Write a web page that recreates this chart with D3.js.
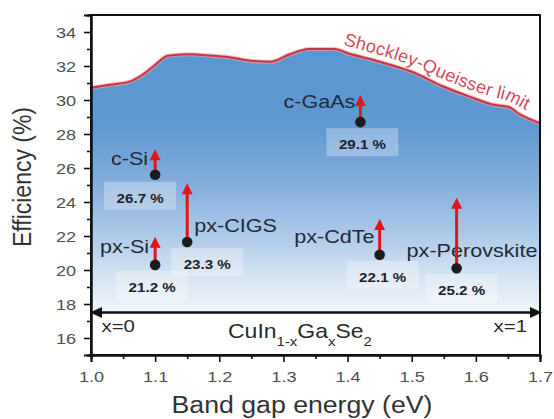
<!DOCTYPE html>
<html>
<head>
<meta charset="utf-8">
<script src="https://cdn.jsdelivr.net/npm/d3@7"></script>
<style>
  html, body { margin: 0; padding: 0; background: #ffffff; }
  svg { display: block; font-family: "Liberation Sans", Arial, sans-serif; }
</style>
</head>
<body>
<svg id="chart" width="554" height="419"></svg>
<script>
// Shockley-Queisser detailed-balance limit vs band gap
const sqGap = [1.00, 1.03, 1.06, 1.08, 1.10, 1.12, 1.15, 1.19, 1.22, 1.24, 1.28, 1.31, 1.34, 1.38, 1.40, 1.45, 1.50, 1.55, 1.59, 1.63, 1.65, 1.67, 1.70];
const sqEff = [30.72, 30.9, 31.08, 31.47, 32.06, 32.6, 32.69, 32.6, 32.49, 32.35, 32.25, 32.69, 33.0, 33.0, 32.75, 32.25, 31.66, 30.78, 30.2, 29.7, 29.6, 29.12, 28.63];

// Solar cell technologies
const cells    = ["c-Si", "px-Si", "px-CIGS", "c-GaAs", "px-CdTe", "px-Perovskite"];
const cellGap  = [1.10, 1.10, 1.15, 1.42, 1.45, 1.57];
const dotEff   = [25.6, 20.3, 21.65, 28.7, 20.9, 20.1];
const arrowEff = [27.1, 21.95, 25.1, 30.3, 23.0, 24.25];
const recordEff = [26.7, 21.2, 23.3, 29.1, 22.1, 25.2];

// Axis ticks
const yTicks = [16, 18, 20, 22, 24, 26, 28, 30, 32, 34];
const xTicks = [1.0, 1.1, 1.2, 1.3, 1.4, 1.5, 1.6, 1.7];

// CuIn(1-x)Ga(x)Se2 composition band
const compositionLevel = 17.5;
const compositionEnds = ["x=0", "x=1"];

const svg = d3.select("#chart");
const plotL = 91, plotR = 540, plotT = 15, plotB = 355;

const x = d3.scaleLinear().domain([1.0, 1.7]).range([plotL, plotR]);
const y = d3.scaleLinear().domain([15, 35]).range([plotB, plotT]);

// gradient for the area under the limit
const defs = svg.append("defs");
const grad = defs.append("linearGradient")
  .attr("id", "sqFill").attr("gradientUnits", "userSpaceOnUse")
  .attr("x1", 0).attr("x2", 0).attr("y1", y(33.1)).attr("y2", y(compositionLevel));
[[0, "#5a97d2"], [0.3, "#6098d0"], [0.5, "#81acdb"], [0.7, "#abc9e8"], [0.88, "#d8e6f4"], [1, "#f1f6fb"]]
  .forEach(([o, c]) => grad.append("stop").attr("offset", o).attr("stop-color", c));

const sq = sqGap.map((g, i) => ({ g, e: sqEff[i] }));

const area = d3.area()
  .x(d => x(d.g)).y0(y(compositionLevel)).y1(d => y(d.e))
  .curve(d3.curveMonotoneX);
svg.append("path").datum(sq).attr("d", area).attr("fill", "url(#sqFill)");

const line = d3.line().x(d => x(d.g)).y(d => y(d.e)).curve(d3.curveMonotoneX);
svg.append("path").datum(sq).attr("d", line)
  .attr("fill", "none").attr("stroke", "#e9a0a6").attr("stroke-width", 4.2).attr("opacity", 0.7);
svg.append("path").datum(sq).attr("d", line)
  .attr("fill", "none").attr("stroke", "#c7343f").attr("stroke-width", 2);

// label path: a smoothed copy of the limit curve, lifted above it
const labelLine = d3.line().x(d => x(d.g)).y(d => y(d.e) - 7).curve(d3.curveBasis);
const labelPts = sq.filter(d => d.g >= 1.34);
defs.append("path").attr("id", "sqLabelPath").attr("d", labelLine(labelPts));
// path length where the label should begin
const tmp = svg.append("path").attr("d", labelLine(labelPts)).attr("fill", "none");
const node = tmp.node();
let lo = 0, hi = node.getTotalLength();
const startX = x(1.393);
for (let k = 0; k < 40; k++) {
  const mid = (lo + hi) / 2;
  if (node.getPointAtLength(mid).x < startX) lo = mid; else hi = mid;
}
tmp.remove();
svg.append("text")
  .attr("font-size", 18).attr("fill", "#d44a58").attr("letter-spacing", 0.3)
  .append("textPath").attr("href", "#sqLabelPath").attr("startOffset", lo)
  .text("Shockley-Queisser limit");

// composition double arrow
const gArrow = svg.append("g");
const yc = y(compositionLevel);
gArrow.append("line").attr("x1", x(1.0) + 6).attr("x2", x(1.7) - 6)
  .attr("y1", yc).attr("y2", yc).attr("stroke", "#111").attr("stroke-width", 2.5);
gArrow.append("path")
  .attr("d", `M${x(1.0) - 1},${yc} L${x(1.0) + 11},${yc - 5.5} L${x(1.0) + 11},${yc + 5.5} Z`)
  .attr("fill", "#111");
gArrow.append("path")
  .attr("d", `M${x(1.7) + 2},${yc} L${x(1.7) - 10},${yc - 5.5} L${x(1.7) - 10},${yc + 5.5} Z`)
  .attr("fill", "#111");

// text drawn with a slight horizontal stretch
function stretched(parent, tx, ty, s) {
  return parent.append("text").attr("transform", `translate(${tx},${ty}) scale(${s},1)`);
}

stretched(svg, 101.5, 332, 1.2).attr("font-size", 17).attr("fill", "#2a2a2a").text(compositionEnds[0]);
stretched(svg, 527, 332, 1.2).attr("font-size", 17).attr("fill", "#2a2a2a")
  .attr("text-anchor", "end").text(compositionEnds[1]);

const cig = stretched(svg, 228, 338, 1.15).attr("font-size", 20).attr("fill", "#2a2a2a");
cig.append("tspan").text("CuIn");
cig.append("tspan").attr("font-size", 13).attr("dy", 8).text("1-x");
cig.append("tspan").attr("dy", -8).text("Ga");
cig.append("tspan").attr("font-size", 13).attr("dy", 8).text("x");
cig.append("tspan").attr("dy", -8).text("Se");
cig.append("tspan").attr("font-size", 13).attr("dy", 8).text("2");

// technology markers: label placement around each dot
const offsets = {
  "c-Si":          { name: [-7, -10, "end"],   pct: [-15, 28] },
  "px-Si":         { name: [-6, -12, "end"],   pct: [-3, 27] },
  "px-CIGS":       { name: [7, -10, "start"],  pct: [20, 27] },
  "c-GaAs":        { name: [-5, -14, "end"],   pct: [2, 27] },
  "px-CdTe":       { name: [-5, -12, "end"],   pct: [3, 27] },
  "px-Perovskite": { name: [-50, -11, "start"], pct: [5, 27] }
};

const cellData = cells.map((n, i) => ({
  name: n, gap: cellGap[i], dot: dotEff[i], tip: arrowEff[i], rec: recordEff[i]
}));

const gCells = svg.append("g");
cellData.forEach(d => {
  const cx = x(d.gap), cy = y(d.dot), ty = y(d.tip);
  const o = offsets[d.name];
  // record efficiency box and text
  const px = cx + o.pct[0], py = cy + o.pct[1];
  gCells.append("rect").attr("x", px - 36).attr("y", py - 21).attr("width", 72).attr("height", 28)
    .attr("fill", "#ffffff").attr("opacity", 0.3);
  stretched(gCells, px, py, 1.12).attr("font-size", 13.5).attr("font-weight", "bold")
    .attr("fill", "#1e2228").attr("text-anchor", "middle").text(d3.format(".1f")(d.rec) + " %");
  // technology name
  stretched(gCells, cx + o.name[0], cy + o.name[1], 1.2).attr("font-size", 18)
    .attr("fill", "#232a36").attr("text-anchor", o.name[2]).text(d.name);
  // improvement arrow
  gCells.append("line").attr("x1", cx).attr("x2", cx).attr("y1", cy).attr("y2", ty + 9)
    .attr("stroke", "#e3141d").attr("stroke-width", 3);
  gCells.append("path")
    .attr("d", `M${cx},${ty} L${cx - 5.5},${ty + 11} L${cx + 5.5},${ty + 11} Z`)
    .attr("fill", "#e3141d");
  gCells.append("circle").attr("cx", cx).attr("cy", cy).attr("r", 5.3).attr("fill", "#1b1b1b");
});

// frame
svg.append("rect").attr("x", plotL).attr("y", plotT).attr("width", plotR - plotL).attr("height", plotB - plotT)
  .attr("fill", "none").attr("stroke", "#111").attr("stroke-width", 2);

// axes
const yAxis = svg.append("g").attr("transform", `translate(${plotL},0)`)
  .call(d3.axisLeft(y).tickValues(yTicks).tickSize(7).tickPadding(4).tickFormat(d3.format("d")));
const yMinor = svg.append("g").attr("transform", `translate(${plotL},0)`)
  .call(d3.axisLeft(y).tickValues(d3.range(15, 35.5, 1).filter(v => v % 2 === 1)).tickSize(4).tickFormat(""));
const xAxis = svg.append("g").attr("transform", `translate(0,${plotB})`)
  .call(d3.axisBottom(x).tickValues(xTicks).tickSize(7).tickPadding(9).tickFormat(d3.format(".1f")));
const xMinor = svg.append("g").attr("transform", `translate(0,${plotB})`)
  .call(d3.axisBottom(x).tickValues(xTicks.slice(0, -1).map(v => v + 0.05)).tickSize(4).tickFormat(""));

[yAxis, yMinor, xAxis, xMinor].forEach(a => {
  a.select(".domain").attr("stroke", "#111").attr("stroke-width", 2);
  a.selectAll(".tick line").attr("stroke", "#111").attr("stroke-width", 1.6);
});
yAxis.selectAll(".tick text").attr("font-size", 15.5).attr("fill", "#505050")
  .attr("font-family", "Liberation Sans, Arial, sans-serif")
  .attr("x", -11).attr("dy", "0.34em").attr("transform", "translate(-2,0) scale(1.17,1)");
xAxis.selectAll(".tick text").attr("font-size", 15.5).attr("fill", "#505050")
  .attr("font-family", "Liberation Sans, Arial, sans-serif")
  .attr("transform", "scale(1.17,1)");

// axis titles
svg.append("text").attr("transform", `translate(31,177) scale(1.1,1) rotate(-90)`)
  .attr("text-anchor", "middle").attr("font-size", 23).attr("fill", "#333").text("Efficiency (%)");
svg.append("text").attr("transform", `translate(302,413) scale(1.16,1)`)
  .attr("text-anchor", "middle").attr("font-size", 23).attr("fill", "#333").text("Band gap energy (eV)");
</script>
</body>
</html>
